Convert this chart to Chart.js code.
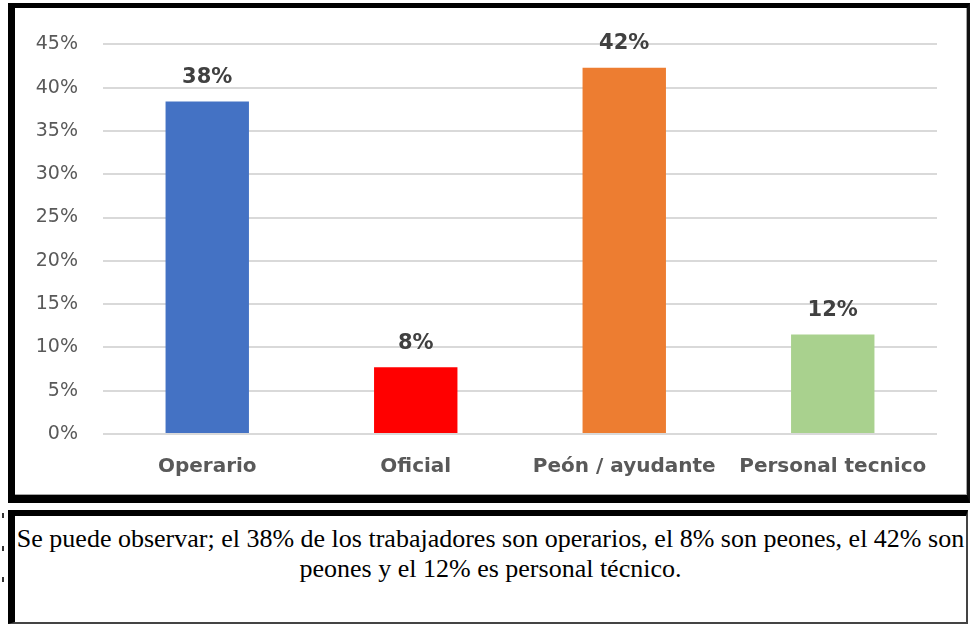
<!DOCTYPE html>
<html><head><meta charset="utf-8">
<script src="https://cdn.jsdelivr.net/npm/chart.js@4/dist/chart.umd.min.js"></script>
<style>
html,body{margin:0;padding:0;background:#fff;width:970px;height:625px;overflow:hidden;position:relative}
#box1{position:absolute;left:8px;top:3px;width:952px;height:487px;border-left:7px solid #000;border-top:5px solid #000;border-bottom:8px solid #000;border-right:3px solid #111;background:#fff;box-shadow:inset -1px -1px 0 #a6a6a6}
#box1 canvas{position:absolute;left:0;top:0}
#box2{position:absolute;left:8px;top:510px;width:951px;height:106px;border-left:7px solid #000;border-top:6px solid #000;border-bottom:2px solid #444;border-right:2px solid #444;background:#fff}
#caption{font-family:"Liberation Serif","Times New Roman",serif;font-size:26px;line-height:30px;text-align:center;color:#000;padding-top:8px;white-space:nowrap}
.tick{position:absolute;left:2px;width:2px;height:5px;background:#333}
</style></head><body>
<div id="box1"><canvas id="c" width="952" height="487"></canvas></div>
<div id="box2"><div id="caption">Se puede observar; el 38% de los trabajadores son operarios, el 8% son peones, el 42% son<br>peones y el 12% es personal técnico.</div></div>
<div class="tick" style="top:513px"></div>
<div class="tick" style="top:546px"></div>
<div class="tick" style="top:577px"></div>
<script>
const categories = ['Operario', 'Oficial', 'Peón / ayudante', 'Personal tecnico'];
const shares = [38.4, 7.7, 42.3, 11.5];
const shareLabels = ['38%', '8%', '42%', '12%'];
const barColors = ['#4472C4', '#FF0000', '#ED7D31', '#A9D18E'];
const yMax = 45;
const yStep = 5;

const barLabels = {
  id: 'barLabels',
  afterDatasetsDraw(chart) {
    const ctx = chart.ctx;
    const meta = chart.getDatasetMeta(0);
    ctx.save();
    ctx.font = 'bold 21px "DejaVu Sans"';
    ctx.fillStyle = '#404040';
    ctx.textAlign = 'center';
    ctx.textBaseline = 'middle';
    meta.data.forEach((bar, i) => ctx.fillText(shareLabels[i], bar.x, bar.y - 24));
    ctx.restore();
  }
};

new Chart(document.getElementById('c'), {
  type: 'bar',
  data: {
    labels: categories,
    datasets: [{ data: shares, backgroundColor: barColors, borderWidth: 0, categoryPercentage: 1, barPercentage: 0.4 }]
  },
  options: {
    responsive: false,
    animation: false,
    devicePixelRatio: 1,
    layout: { padding: { top: 36, right: 30, left: 0, bottom: 0 } },
    plugins: { legend: { display: false }, tooltip: { enabled: false } },
    scales: {
      y: {
        min: 0, max: yMax,
        afterFit(s) { s.width = 88; },
        border: { display: false },
        grid: { color: '#d9d9d9', lineWidth: 2, drawTicks: false },
        ticks: { stepSize: yStep, padding: 25, color: '#595959', font: { family: 'DejaVu Sans', size: 19 }, callback: v => v + '%' }
      },
      x: {
        afterFit(s) { s.height = 61; },
        border: { display: false },
        grid: { display: false, drawTicks: false },
        ticks: { padding: 21, autoSkip: false, maxRotation: 0, color: '#595959', font: { family: 'DejaVu Sans', size: 20, weight: 'bold' } }
      }
    }
  },
  plugins: [barLabels]
});
</script>
</body></html>
